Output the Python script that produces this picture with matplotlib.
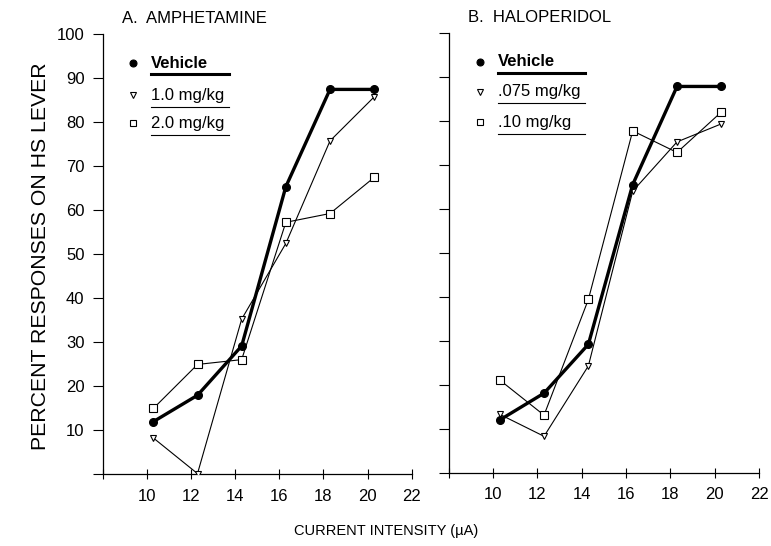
import matplotlib
matplotlib.use("Agg")
import matplotlib.pyplot as plt

plt.rcParams['font.family'] = ['Liberation Sans', 'DejaVu Sans']

# ---- data ----
current = [10.3, 12.3, 14.3, 16.3, 18.3, 20.3]

amph_vehicle = [12.0, 18.0, 29.2, 65.4, 87.5, 87.5]
amph_1_0 = [8.3, 0.2, 35.3, 52.5, 75.8, 85.8]
amph_2_0 = [15.0, 25.0, 26.1, 57.3, 59.3, 67.5]

halo_vehicle = [12.0, 18.1, 29.2, 65.5, 87.8, 87.8]
halo_075 = [13.3, 8.3, 24.3, 64.0, 75.2, 79.3]
halo_10 = [21.1, 13.1, 39.4, 77.7, 72.8, 82.0]

x_ticks = [10, 12, 14, 16, 18, 20, 22]
y_ticks = [10, 20, 30, 40, 50, 60, 70, 80, 90, 100]

panels = [
    ("A.  AMPHETAMINE", amph_vehicle, amph_1_0, amph_2_0,
     ["Vehicle", "1.0 mg/kg", "2.0 mg/kg"]),
    ("B.  HALOPERIDOL", halo_vehicle, halo_075, halo_10,
     ["Vehicle", ".075 mg/kg", ".10 mg/kg"]),
]

fig = plt.figure(figsize=(7.71, 5.46), dpi=100)
ax_a = fig.add_axes([0.133, 0.131, 0.401, 0.806])
ax_b = fig.add_axes([0.582, 0.134, 0.4025, 0.806])

# legend layout (axes fraction): marker x, text x, line end x, row y's
leg_cfg = {
    0: dict(mx=0.098, tx=0.156, ex=0.41, rows=[0.935, 0.862, 0.798]),
    1: dict(mx=0.100, tx=0.158, ex=0.44, rows=[0.934, 0.866, 0.797]),
}

for i, (ax, (title, veh, d1, d2, labels)) in enumerate(zip([ax_a, ax_b], panels)):
    ax.plot(current, d1, color='black', lw=0.8, marker='v', ms=5,
            mfc='white', mec='black', mew=0.8, zorder=3)
    ax.plot(current, d2, color='black', lw=0.8, marker='s', ms=5.5,
            mfc='white', mec='black', mew=0.8, zorder=3)
    ax.plot(current, veh, color='black', lw=2.4, marker='o', ms=5.5,
            mfc='black', mec='black', zorder=4)

    ax.set_xlim(8, 22)
    ax.set_ylim(0, 100)
    ax.set_xticks([8] + x_ticks)
    ax.set_xticklabels([''] + [str(v) for v in x_ticks], fontsize=12)
    ax.set_yticks([0] + y_ticks)
    if i == 0:
        ax.set_yticklabels([''] + [str(v) for v in y_ticks], fontsize=12)
    else:
        ax.set_yticklabels([])
    ax.tick_params(axis='x', direction='inout', length=7, width=0.8, pad=7)
    ax.tick_params(axis='y', direction='out', length=7, width=0.8, pad=6)
    for s in ['top', 'right']:
        ax.spines[s].set_visible(False)
    for s in ['left', 'bottom']:
        ax.spines[s].set_linewidth(0.9)

    ax.text(0.063, 1.025, title, transform=ax.transAxes, fontsize=12,
            ha='left', va='baseline')

    cfg = leg_cfg[i]
    styles = [dict(marker='o', mfc='black', ms=5, lw=2.2),
              dict(marker='v', mfc='white', ms=4.5, lw=0.8),
              dict(marker='s', mfc='white', ms=4.5, lw=0.8)]
    for lab, y, st in zip(labels, cfg['rows'], styles):
        ax.plot([cfg['mx']], [y], transform=ax.transAxes, marker=st['marker'],
                ms=st['ms'], mfc=st['mfc'], mec='black', mew=0.8,
                ls='none', clip_on=False)
        ax.text(cfg['tx'], y, lab, transform=ax.transAxes, fontsize=12,
                ha='left', va='center',
                fontweight='bold' if lab == 'Vehicle' else 'normal')
        ax.plot([cfg['tx'], cfg['ex']], [y - 0.026, y - 0.026],
                transform=ax.transAxes, color='black', lw=st['lw'],
                clip_on=False)

fig.text(0.052, 0.53, "PERCENT RESPONSES ON HS LEVER", rotation=90,
         fontsize=15.3, ha='center', va='center')
fig.text(0.501, 0.028, "CURRENT INTENSITY (\u00b5A)", fontsize=10.5,
         ha='center', va='center')

fig.savefig("out.png", dpi=100)
